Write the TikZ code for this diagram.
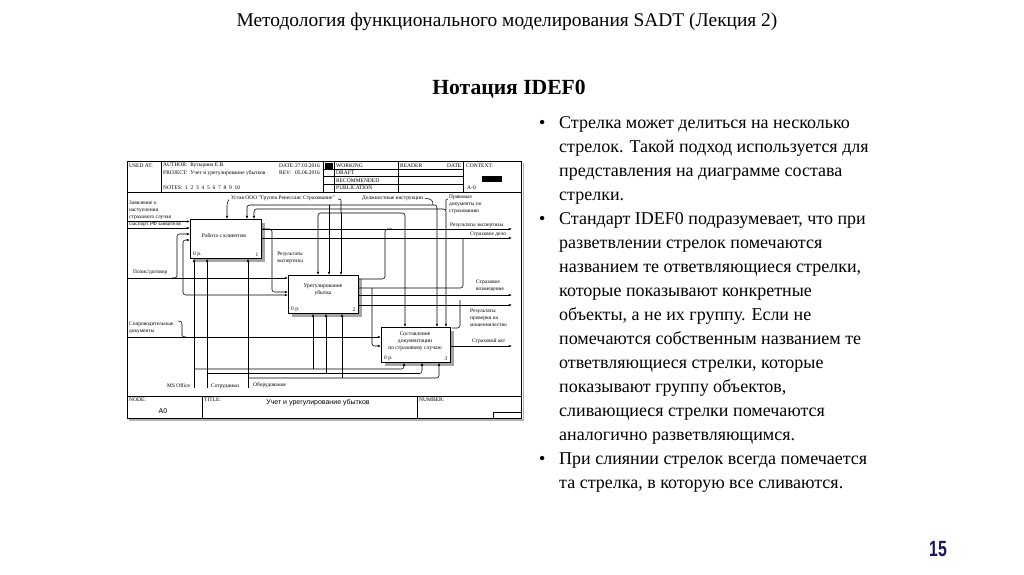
\documentclass[tikz,border=0pt]{standalone}
\usepackage{fontspec}
\setmainfont{Liberation Serif}
\setsansfont{Liberation Sans}
\newfontfamily\narrowsans[FakeStretch=0.72]{Liberation Sans}
\usetikzlibrary{arrows.meta,calc}
\definecolor{pgnum}{RGB}{22,22,100}
\begin{document}
\begin{tikzpicture}[x=1pt,y=-1pt,
  lab/.style={font=\fontsize{5.4}{7}\selectfont, inner sep=0pt, align=left},
  hdr/.style={font=\fontsize{5.5}{6}\selectfont, inner sep=0pt, anchor=west},
  boxtxt/.style={font=\fontsize{5.6}{7}\selectfont, inner sep=0pt, align=center},
  idefbox/.style={draw, line width=0.6pt, fill=white, anchor=north west, inner sep=0pt},
  shd/.style={fill=black!35, draw=none},
  arr/.style={line width=0.55pt, rounded corners=2.5pt, -{Latex[length=3.2pt,width=2.4pt]}},
  ln/.style={line width=0.55pt, rounded corners=2.5pt},
  frm/.style={line width=0.6pt},
  bul/.style={font=\fontsize{18}{22}\selectfont, anchor=base west, inner sep=0pt}
]
\useasboundingbox[fill=white] (0,0) rectangle (1024,574);

% ---------- titles ----------
\node[font=\fontsize{19.4}{22}\selectfont] (title) at (507,22) {Методология функционального моделирования SADT (Лекция 2)};
\node[font=\bfseries\fontsize{21.6}{24}\selectfont] (head) at (509,89) {Нотация IDEF0};

% ---------- bullet text ----------
\foreach \yy in {128,224,464} {\node[bul] at (539,\yy) {•};}
\node[bul] (t1) at (559,128) {Стрелка может делиться на несколько};
\node[bul] (t2) at (559,152) {стрелок. Такой подход используется для};
\node[bul] (t3) at (559,176) {представления на диаграмме состава};
\node[bul] (t4) at (559,200) {стрелки.};
\node[bul] (t5) at (559,224) {Стандарт IDEF0 подразумевает, что при};
\node[bul] (t6) at (559,248) {разветвлении стрелок помечаются};
\node[bul] (t7) at (559,272) {названием те ответвляющиеся стрелки,};
\node[bul] (t8) at (559,296) {которые показывают конкретные};
\node[bul] (t9) at (559,320) {объекты, а не их группу. Если не};
\node[bul] (t10) at (559,344) {помечаются собственным названием те};
\node[bul] (t11) at (559,368) {ответвляющиеся стрелки, которые};
\node[bul] (t12) at (559,392) {показывают группу объектов,};
\node[bul] (t13) at (559,416) {сливающиеся стрелки помечаются};
\node[bul] (t14) at (559,440) {аналогично разветвляющимся.};
\node[bul] (t15) at (559,464) {При слиянии стрелок всегда помечается};
\node[bul] (t16) at (559,488) {та стрелка, в которую все сливаются.};

\node[font=\narrowsans\bfseries\fontsize{22}{24}\selectfont, text=pgnum] (pg) at (938,549) {15};

% ---------- IDEF0 form frame ----------
\draw[black!30, line width=1.2pt] (523.5,163) -- (523.5,420) -- (129,420);
\draw[frm] (127,161) rectangle (521,418);
% header
\draw[frm] (127,192) -- (521,192);
\draw[frm] (161,161) -- (161,192);
\draw[frm] (323,161) -- (323,192);
\draw[frm] (334,161) -- (334,192);
\draw[frm] (398,161) -- (398,192);
\draw[frm] (463,161) -- (463,192);
\foreach \yy in {169,176.5,184} {\draw[line width=0.5pt] (323,\yy) -- (463,\yy);}
\fill (324.5,162.5) rectangle (332.5,168.5);
\fill (482,176) rectangle (502,182);
\node[hdr] (usedat) at (129,165.5) {USED AT:};
\node[hdr] (author) at (163,165.5) {AUTHOR:\enspace Кутырина Е.В.};
\node[hdr] (project) at (163,173) {PROJECT:\enspace Учет и урегулирование убытков};
\node[hdr] (notes) at (163,188) {NOTES:\enspace 1\enspace 2\enspace 3\enspace 4\enspace 5\enspace 6\enspace 7\enspace 8\enspace 9\enspace 10};
\node[hdr] (datel) at (279,165.5) {DATE:};
\node[hdr] (datev) at (295,165.5) {27.03.2016};
\node[hdr] (revl) at (279,173) {REV:};
\node[hdr] (revv) at (295,173) {05.06.2016};
\node[hdr] (working) at (336,165.5) {WORKING};
\node[hdr] (draft) at (336,173) {DRAFT};
\node[hdr] (recom) at (336,180.5) {RECOMMENDED};
\node[hdr] (publ) at (336,188) {PUBLICATION};
\node[hdr] (reader) at (400,165.5) {READER};
\node[hdr] (rdate) at (447,165.5) {DATE};
\node[hdr] (context) at (466,165.5) {CONTEXT:};
\node[hdr] (actx) at (467,188) {A-0};
% footer
\draw[frm] (127,396) -- (521,396);
\draw[frm] (202,396) -- (202,418);
\draw[frm] (417,396) -- (417,418);
\draw[frm] (493,418) -- (493,412.5) -- (521,412.5);
\node[hdr] (nodel) at (129,400) {NODE:};
\node[hdr] (titlel) at (204,400) {TITLE:};
\node[hdr] (numl) at (419,400) {NUMBER:};
\node[font=\sffamily\fontsize{7}{8}\selectfont, inner sep=0pt] (nodev) at (163,411) {A0};
\node[font=\sffamily\fontsize{7}{8}\selectfont, inner sep=0pt] (titlev) at (318,403) {Учет и урегулирование убытков};

% ---------- boxes ----------
\fill[shd] (194,223) rectangle (265,262);
\fill[shd] (292,279) rectangle (362,317);
\fill[shd] (385,331) rectangle (454,366);
\node[idefbox, minimum width=71pt, minimum height=39pt] (b1) at (190,219) {};
\node[idefbox, minimum width=70pt, minimum height=38pt] (b2) at (288,275) {};
\node[idefbox, minimum width=69pt, minimum height=35pt] (b3) at (381,327) {};
\node[boxtxt] (b1t) at (224,236) {Работа с клиентом};
\node[boxtxt] (b2t) at (323,290) {Урегулирование\\убытка};
\node[boxtxt] (b3t) at (415,341) {Составление\\документации\\по страховому случаю};
\node[lab, anchor=south west] (b1c) at ($(b1.south west)+(3,-1.5)$) {0 р.};
\node[lab, anchor=south east] (b1n) at ($(b1.south east)+(-3,-1.5)$) {1};
\node[lab, anchor=south west] (b2c) at ($(b2.south west)+(3,-1.5)$) {0 р.};
\node[lab, anchor=south east] (b2n) at ($(b2.south east)+(-3,-1.5)$) {2};
\node[lab, anchor=south west] (b3c) at ($(b3.south west)+(3,-1.5)$) {0 р.};
\node[lab, anchor=south east] (b3n) at ($(b3.south east)+(-3,-1.5)$) {3};

% ---------- labels ----------
\node[lab, anchor=south west] (lzav) at (129,219.5) {Заявление о\\наступлении\\страхового случая};
\node[lab, anchor=south west] (lpas) at (129,226.8) {Паспорт РФ заявителя};
\node[lab, anchor=west] (lpol) at (133,272) {Полис/договор};
\node[lab, anchor=west] (lsop) at (129,327.5) {Сопроводительные\\документы};
\node[lab, anchor=west] (lust) at (231,198) {Устав ООО "Группа Ренессанс Страхование"};
\node[lab, anchor=west] (ldol) at (362,198) {Должностные инструкции};
\node[lab, anchor=west] (lprav) at (449,204.5) {Правовые\\документы по\\страхованию};
\node[lab, align=center] (lres1) at (290,258) {Результаты\\экспертизы};
\node[lab, anchor=south west] (lres2) at (450,227.8) {Результаты экспертизы};
\node[lab, anchor=south west] (ldelo) at (470,236.5) {Страховое дело};
\node[lab, anchor=west] (lvoz) at (476,286) {Страховое\\возмещение};
\node[lab, anchor=west] (lmosh) at (470,318) {Результаты\\проверки на\\мошенничество};
\node[lab, anchor=south west] (lakt) at (472,344) {Страховой акт};
\node[lab, anchor=west] (lms) at (167,386) {MS Office};
\node[lab, anchor=west] (lsot) at (211,386.5) {Сотрудники};
\node[lab, anchor=west] (lobo) at (253,385.5) {Оборудование};

% ---------- inputs ----------
\coordinate (inZ) at (128,221.5);
\coordinate (inP) at (128,228);
\coordinate (inPol) at (128,278);
\coordinate (inS) at (128,337);
\draw[arr] (inZ) -- ($(b1.north west)+(0,2.5)$);
\draw[arr] (inP) -- ($(b1.north west)+(0,9)$);
\draw[arr] (inPol) -- ($(b2.north west)+(0,3)$);
\draw[arr] (172,278) -- (177,278) |- ($(b1.north west)+(0,15)$);
\draw[arr] (183,268) |- ($(b1.north west)+(0,21)$);
\draw[arr] (183,268) |- ($(b2.north west)+(0,20)$);
\draw[arr] (inS) -- ($(b3.north west)+(0,10)$);
\draw[ln] (178,321) .. controls (182,321) and (182,323) .. (182,327) -- (182,333) .. controls (182,336) and (183,337) .. (186,337);

% ---------- controls ----------
\draw[arr] (229,199.5) -- (227,203) -- ($(b1.north west)+(37,0)$);
\coordinate (jD) at (329,205);
\draw[arr] (jD) -| ($(b1.north west)+(57,0)$);
\draw[arr] (jD) -- ($(b2.north west)+(41,0)$);
\draw[arr] (jD) -| ($(b3.north west)+(56,0)$);
\draw[ln] (425,198.5) .. controls (431,198.5) and (433,200) .. (433,205);
\coordinate (jP) at (350,209);
\draw[arr] (jP) -| ($(b1.north west)+(64,0)$);
\draw[arr] (jP) -| ($(b3.north west)+(65,0)$);
\draw[ln] (446,210) -- (446,203) .. controls (446,199.5) .. (448,199);
\coordinate (jU) at (341,213);
\draw[arr] (jU) -| ($(b2.north west)+(30,0)$);
\draw[arr] (jU) -- ($(b2.north west)+(53,0)$);
\draw[arr] (jU) -| ($(b3.north west)+(24,0)$);
\draw[ln] (338,199) .. controls (341,199.5) .. (341,203) -- (jU);

% ---------- mechanisms ----------
\draw[arr] (194,388) -- ($(b1.south west)+(4,0)$);
\draw[arr] (194,369) -| ($(b3.south west)+(23,0)$);
\draw[arr] (313,369) -- ($(b2.south west)+(25,0)$);
\draw[arr] (207,388) -- ($(b1.south west)+(17,0)$);
\draw[arr] (207,373.5) -| ($(b3.south west)+(41,0)$);
\draw[arr] (326,373.5) -- ($(b2.south west)+(38,0)$);
\draw[arr] (248,388) -- ($(b1.south west)+(58,0)$);
\draw[arr] (248,378) -| ($(b3.south west)+(58,0)$);
\draw[arr] (342,378) -- ($(b2.south west)+(54,0)$);

% ---------- outputs ----------
\coordinate (oR) at (512,229);
\coordinate (oD) at (512,238);
\coordinate (oV) at (512,295);
\coordinate (oM) at (512,305);
\coordinate (oA) at (512,346);
\draw[arr] ($(b1.north east)+(0,10)$) -- (oR);
\draw[arr] ($(b1.north east)+(0,10)$) -| (272,260) |- ($(b2.north west)+(0,17)$);
\draw[arr] ($(b1.north east)+(0,19)$) -- (oD);
\draw[ln] ($(b2.north east)+(0,4)$) -| (385,229) -- (392,229);
\draw[ln] ($(b2.north east)+(0,13)$) -- (463,288) -- (463,238);
\draw[arr] (372,288) |- ($(b3.north west)+(0,19)$);
\draw[ln] (460,300) |- (452,328);
\draw[arr] ($(b2.north east)+(0,20)$) -- (oV);
\draw[arr] ($(b2.north east)+(0,30)$) -- (oM);
\draw[arr] ($(b3.north east)+(0,19)$) -- (oA);
\end{tikzpicture}
\end{document}
